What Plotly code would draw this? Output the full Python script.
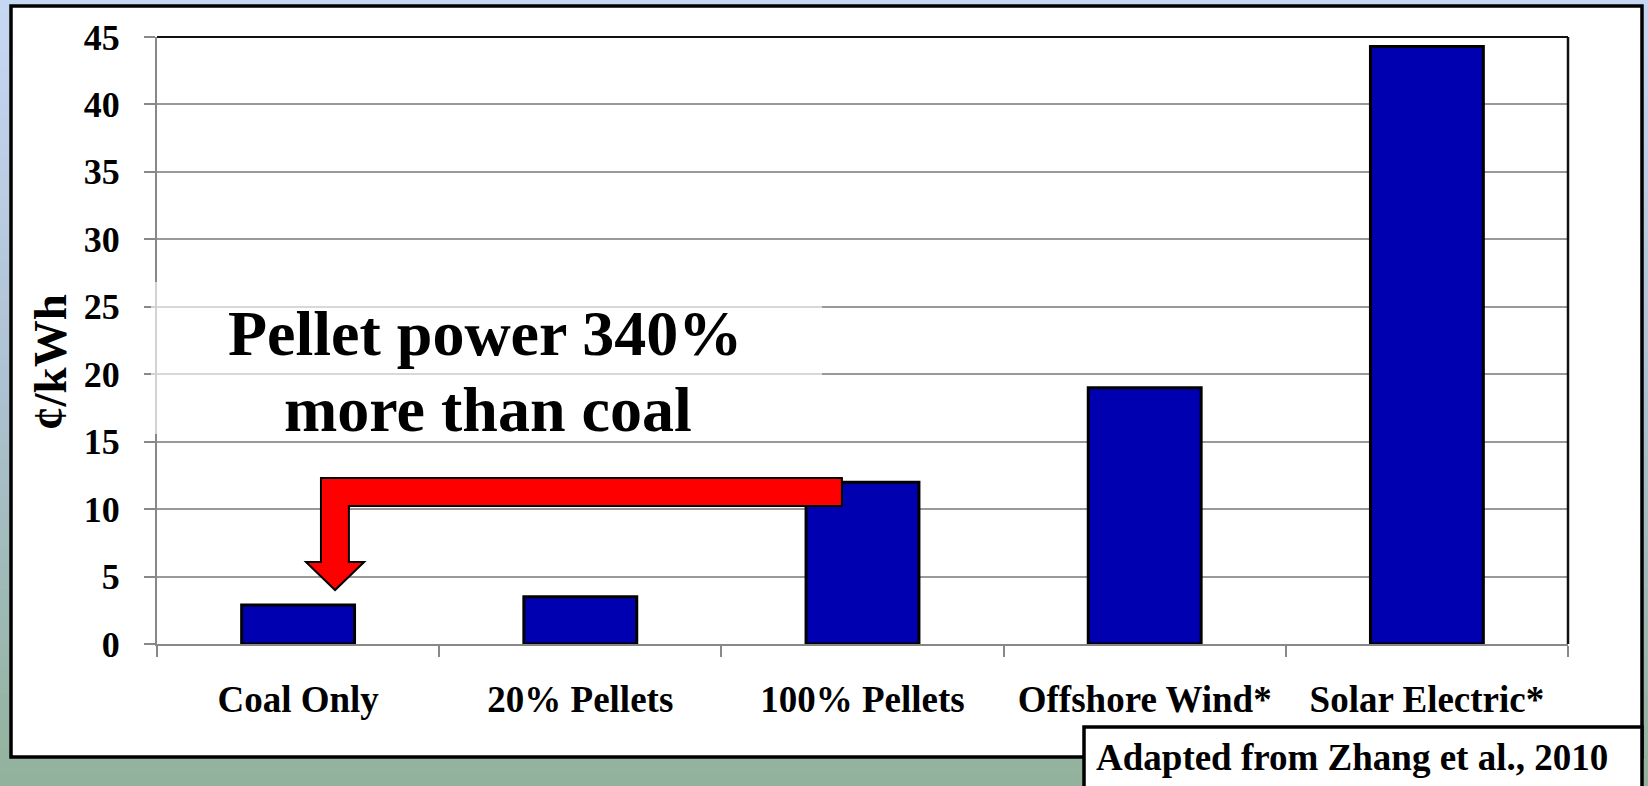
import plotly.graph_objects as go

# Levelized electricity cost by generation option (cents per kWh)
categories = ["Coal Only", "20% Pellets", "100% Pellets", "Offshore Wind*", "Solar Electric*"]
cost_cents_kwh = [2.9, 3.5, 12.0, 19.0, 44.3]
y_ticks = [0, 5, 10, 15, 20, 25, 30, 35, 40, 45]

W, H = 1648, 786
PLOT_L, PLOT_R, PLOT_T, PLOT_B = 157, 1568, 37, 644
Y_MAX = 45
SERIF = "Liberation Serif, Times New Roman, serif"


def px_x(px):
    return (px - PLOT_L) / (PLOT_R - PLOT_L)


def px_y(py):
    return (PLOT_B - py) / (PLOT_B - PLOT_T)


def cat_x(idx):
    # category index -> paper x, for a category axis spanning [-0.5, n-0.5]
    return (idx + 0.5) / len(categories)


def val_y(v):
    return v / Y_MAX


fig = go.Figure()
fig.add_trace(go.Bar(
    x=categories,
    y=cost_cents_kwh,
    marker=dict(color="#0000B0", line=dict(color="#000000", width=3)),
    hoverinfo="x+y",
))

shapes = []

# vertical background gradient (light blue at top -> sage green at bottom)
top_rgb = (198, 215, 243)
mid_rgb = (172, 193, 208)
bot_rgb = (146, 178, 157)
n_bands = 60
for i in range(n_bands):
    t = i / (n_bands - 1)
    if t < 0.5:
        a, b, u = top_rgb, mid_rgb, t / 0.5
    else:
        a, b, u = mid_rgb, bot_rgb, (t - 0.5) / 0.5
    c = tuple(round(a[k] + (b[k] - a[k]) * u) for k in range(3))
    y0 = H * i / n_bands
    y1 = H * (i + 1) / n_bands + 1
    shapes.append(dict(
        type="rect", xref="paper", yref="paper", layer="below",
        x0=px_x(-2), x1=px_x(W + 2), y0=px_y(y0), y1=px_y(y1),
        fillcolor="rgb(%d,%d,%d)" % c, line=dict(width=0),
    ))

# white chart panel with heavy black frame
shapes.append(dict(
    type="rect", xref="paper", yref="paper", layer="below",
    x0=px_x(11), x1=px_x(1642), y0=px_y(757), y1=px_y(6),
    fillcolor="white", line=dict(color="black", width=3.5),
))

# top and right edges of the plot area
shapes.append(dict(type="line", xref="paper", yref="paper", layer="above",
                   x0=0, x1=1, y0=1, y1=1, line=dict(color="#111111", width=2)))
shapes.append(dict(type="line", xref="paper", yref="paper", layer="above",
                   x0=1, x1=1, y0=0, y1=1, line=dict(color="#111111", width=2.5)))

# translucent backing behind the callout text
shapes.append(dict(
    type="rect", xref="paper", yref="paper", layer="above",
    x0=px_x(151), x1=px_x(822), y0=px_y(434), y1=px_y(282),
    fillcolor="rgba(255,255,255,0.62)", line=dict(width=0),
))

# elbow arrow from the 100% pellets bar down to the coal bar
arrow_top, arrow_bot = 12.31, 10.23          # horizontal limb (cents/kWh)
head_top, head_tip = 6.08, 4.0               # arrow head (cents/kWh)
shaft_l, shaft_r = 0.081, 0.180              # shaft edges (category units)
head_l, head_r, tip_x = 0.028, 0.234, 0.131  # head edges (category units)
limb_end = 1.927                             # right end of horizontal limb
pts = [
    (shaft_l, arrow_top), (limb_end, arrow_top), (limb_end, arrow_bot),
    (shaft_r, arrow_bot), (shaft_r, head_top), (head_r, head_top),
    (tip_x, head_tip), (head_l, head_top), (shaft_l, head_top),
]
path = "M " + " L ".join("%.5f,%.5f" % (cat_x(xx), val_y(yy)) for xx, yy in pts) + " Z"
shapes.append(dict(type="path", xref="paper", yref="paper", layer="above", path=path,
                   fillcolor="#FF0000", line=dict(color="black", width=2)))

# source box in the lower right corner
shapes.append(dict(
    type="rect", xref="paper", yref="paper", layer="above",
    x0=px_x(1084), x1=px_x(1642), y0=px_y(800), y1=px_y(727),
    fillcolor="white", line=dict(color="black", width=3.5),
))

annotations = [
    dict(text="<b>Pellet power 340%</b>", xref="paper", yref="paper",
         x=px_x(485), y=px_y(333), xanchor="center", yanchor="middle", showarrow=False,
         font=dict(family=SERIF, size=64, color="black")),
    dict(text="<b>more than coal</b>", xref="paper", yref="paper",
         x=px_x(488), y=px_y(409), xanchor="center", yanchor="middle", showarrow=False,
         font=dict(family=SERIF, size=64, color="black")),
    dict(text="<b>¢/kWh</b>", xref="paper", yref="paper", textangle=-90,
         x=px_x(50), y=px_y(362), xanchor="center", yanchor="middle", showarrow=False,
         font=dict(family=SERIF, size=47, color="black")),
    dict(text="<b>Adapted from Zhang et al., 2010</b>", xref="paper", yref="paper",
         x=px_x(1352), y=px_y(758), xanchor="center", yanchor="middle", showarrow=False,
         font=dict(family=SERIF, size=37, color="black")),
]

fig.update_layout(
    width=W, height=H,
    margin=dict(l=PLOT_L, r=W - PLOT_R, t=PLOT_T, b=H - PLOT_B, autoexpand=False),
    paper_bgcolor="rgb(172,193,208)",
    plot_bgcolor="rgba(0,0,0,0)",
    bargap=0.6,
    showlegend=False,
    shapes=shapes,
    annotations=annotations,
    font=dict(family=SERIF, color="black"),
)
fig.update_xaxes(
    type="category",
    range=[-0.5, len(categories) - 0.5],
    showline=True, linecolor="#888888", linewidth=2,
    ticks="outside", tickson="boundaries", ticklen=11, tickwidth=2, tickcolor="#888888",
    ticklabelstandoff=22,
    tickfont=dict(family=SERIF, size=37, color="black", weight="bold"),
    showgrid=False, zeroline=False,
)
fig.update_yaxes(
    range=[0, Y_MAX],
    tickvals=y_ticks,
    showline=True, linecolor="#888888", linewidth=2,
    ticks="outside", ticklen=11, tickwidth=2, tickcolor="#888888",
    ticklabelstandoff=17,
    tickfont=dict(family=SERIF, size=36, color="black", weight="bold"),
    showgrid=True, gridcolor="#999999", gridwidth=2,
    zeroline=False,
)

fig.write_html("out.html")
